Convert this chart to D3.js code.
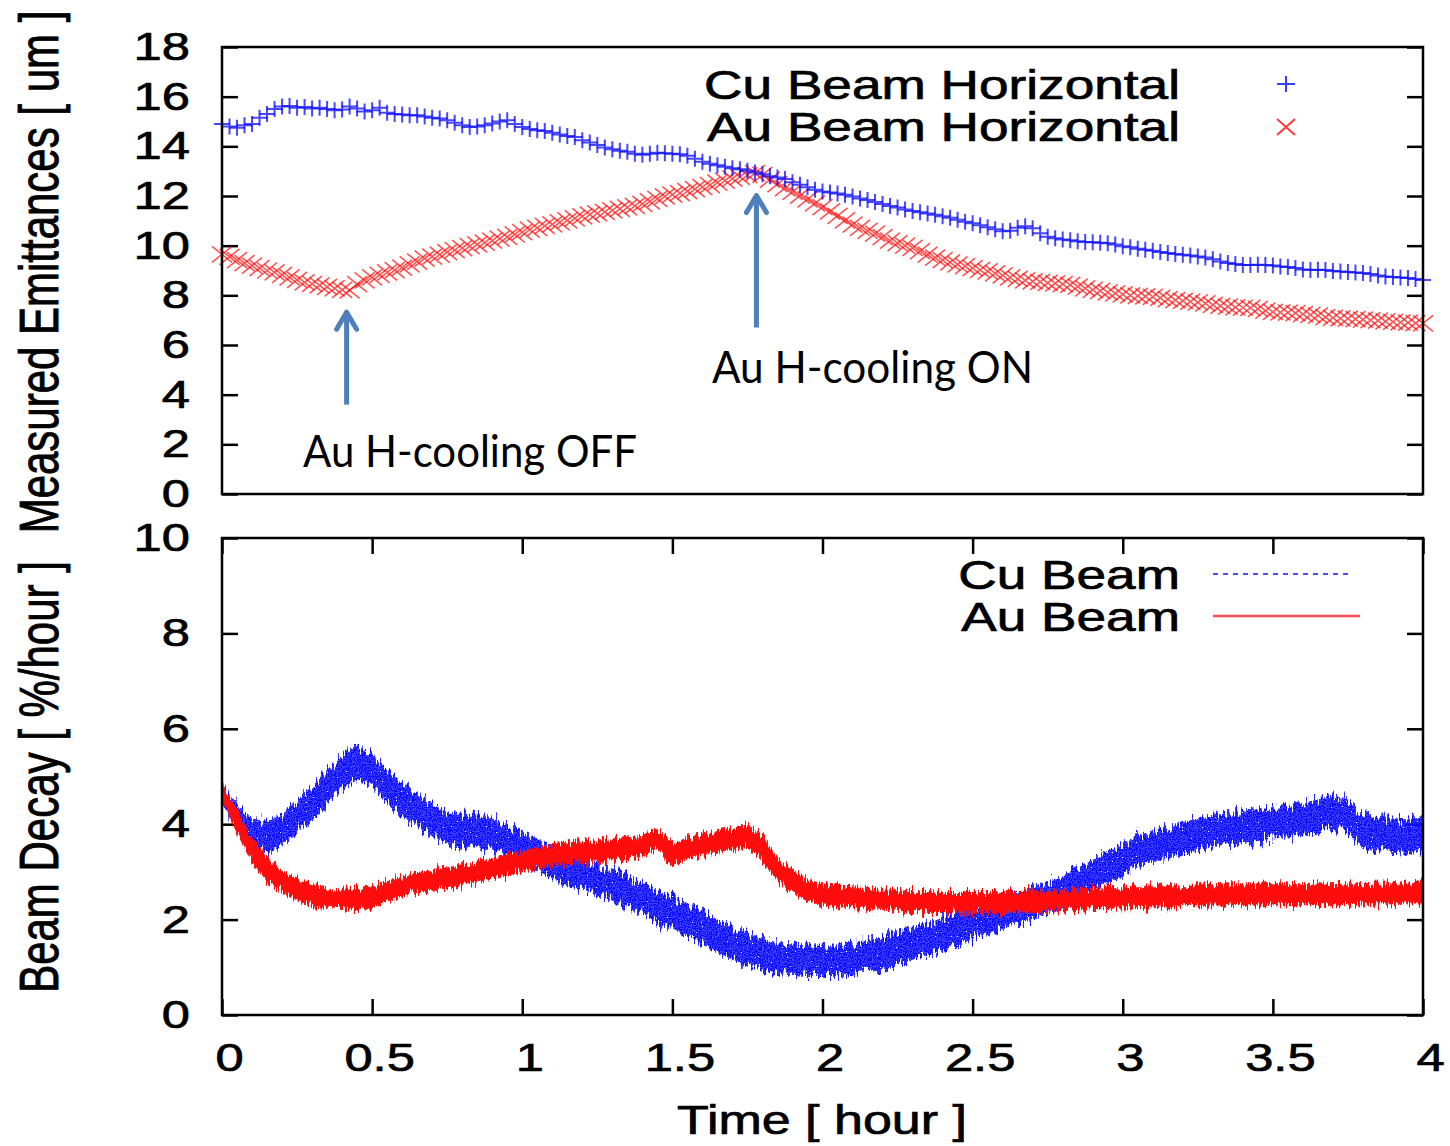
<!DOCTYPE html>
<html>
<head>
<meta charset="utf-8">
<script src="https://cdn.jsdelivr.net/npm/d3@7"></script>
<style>
  html, body { margin: 0; padding: 0; background: #fff; }
  svg { display: block; }
  .gp { font-family: "Liberation Sans", Arial, Helvetica, sans-serif; fill: #000; stroke: #000; stroke-width: 0.7px; }
  .note { font-family: Lato, "Open Sans", sans-serif; fill: #000; }
</style>
</head>
<body>
<svg id="chart" width="1450" height="1146">
  <defs>
    <filter id="texBlue" x="-5%" y="-30%" width="110%" height="160%">
      <feTurbulence type="fractalNoise" baseFrequency="0.5 0.05" numOctaves="2" seed="3" result="n1"/>
      <feColorMatrix in="n1" type="matrix" values="0 0 0 0 0.5  0 1 0 0 0  0 0 0 0 0  0 0 0 0 1" result="disp"/>
      <feDisplacementMap in="SourceGraphic" in2="disp" scale="24" xChannelSelector="R" yChannelSelector="G" result="jag"/>
      <feTurbulence type="fractalNoise" baseFrequency="0.8" numOctaves="1" seed="7" result="n2"/>
      <feComponentTransfer in="n2" result="mask"><feFuncA type="discrete" tableValues="0 0.8 1 1"/></feComponentTransfer>
      <feComposite in="jag" in2="mask" operator="in"/>
    </filter>
    <filter id="texRed" x="-5%" y="-30%" width="110%" height="160%">
      <feTurbulence type="fractalNoise" baseFrequency="0.6 0.04" numOctaves="2" seed="11" result="n1"/>
      <feColorMatrix in="n1" type="matrix" values="0 0 0 0 0.5  0 1 0 0 0  0 0 0 0 0  0 0 0 0 1" result="disp"/>
      <feDisplacementMap in="SourceGraphic" in2="disp" scale="18" xChannelSelector="R" yChannelSelector="G"/>
    </filter>
  </defs>
</svg>
<script>
// ---------- DATA ----------
// Top panel: measured horizontal emittances [um], sampled every 0.025 hour from 0 to 4 h
const emitStepHours = 0.025;
const cuEmitH = [
  14.9,14.8,14.75,14.85,14.9,15.15,15.3,15.5,15.6,15.62,
  15.55,15.58,15.52,15.55,15.5,15.45,15.48,15.6,15.52,15.4,
  15.45,15.55,15.35,15.3,15.28,15.25,15.25,15.2,15.15,15.12,
  15.05,14.95,14.85,14.78,14.8,14.85,14.92,15.0,15.05,14.9,
  14.78,14.7,14.65,14.62,14.55,14.48,14.42,14.38,14.25,14.15,
  14.05,13.95,13.88,13.82,13.78,13.7,13.66,13.7,13.74,13.72,
  13.7,13.68,13.62,13.5,13.38,13.3,13.24,13.18,13.12,13.08,
  13.02,12.95,12.88,12.8,12.75,12.68,12.55,12.45,12.35,12.25,
  12.18,12.14,12.1,12.05,11.98,11.9,11.84,11.76,11.68,11.6,
  11.54,11.46,11.4,11.35,11.3,11.24,11.18,11.12,11.04,10.96,
  10.9,10.82,10.74,10.66,10.58,10.6,10.72,10.78,10.7,10.5,
  10.36,10.3,10.25,10.22,10.18,10.15,10.14,10.12,10.1,10.05,
  9.98,9.94,9.88,9.84,9.8,9.74,9.7,9.66,9.63,9.6,
  9.56,9.52,9.45,9.36,9.3,9.26,9.22,9.22,9.23,9.22,
  9.2,9.16,9.14,9.1,9.04,9.02,9.03,9.02,8.98,8.96,
  8.94,8.92,8.9,8.86,8.8,8.76,8.74,8.72,8.7,8.66,
  8.62
];
const auEmitH = [
  9.65,9.55,9.42,9.3,9.2,9.1,9.0,8.92,8.82,8.72,
  8.62,8.52,8.46,8.4,8.34,8.28,8.22,8.2,8.45,8.6,
  8.72,8.82,8.92,9.02,9.12,9.25,9.36,9.48,9.56,9.64,
  9.74,9.82,9.9,9.98,10.05,10.12,10.2,10.28,10.35,10.45,
  10.55,10.65,10.72,10.8,10.86,10.94,11.02,11.1,11.18,11.25,
  11.3,11.36,11.42,11.48,11.54,11.6,11.68,11.78,11.88,11.98,
  12.06,12.12,12.2,12.28,12.36,12.44,12.54,12.62,12.7,12.77,
  12.84,12.92,12.85,12.66,12.48,12.32,12.17,12.02,11.86,11.7,
  11.55,11.38,11.2,11.02,10.85,10.72,10.6,10.48,10.34,10.2,
  10.1,10.0,9.91,9.78,9.64,9.52,9.42,9.33,9.25,9.18,
  9.1,9.03,8.96,8.88,8.8,8.72,8.66,8.6,8.56,8.54,
  8.5,8.48,8.45,8.42,8.35,8.28,8.22,8.18,8.12,8.08,
  8.04,8.0,7.98,7.96,7.94,7.9,7.85,7.81,7.78,7.75,
  7.72,7.68,7.62,7.58,7.55,7.52,7.5,7.49,7.45,7.38,
  7.33,7.31,7.3,7.28,7.24,7.21,7.18,7.12,7.09,7.07,
  7.06,7.04,7.02,7.0,6.98,6.95,6.93,6.91,6.9,6.88,
  6.87
];

// Bottom panel: beam decay [%/hour], noisy band read as lower / upper edge every 0.05 hour
const decayStepHours = 0.05;
const cuDecayLo = [
  4.4,3.92,3.5,3.4,3.55,3.82,4.1,4.45,4.75,4.95,
  4.8,4.45,4.15,3.98,3.75,3.6,3.55,3.5,3.45,3.32,
  3.18,3.05,2.88,2.72,2.62,2.5,2.4,2.25,2.12,1.95,
  1.82,1.66,1.52,1.32,1.16,1.04,0.95,0.86,0.84,0.82,
  0.82,0.82,0.86,0.92,0.96,1.06,1.16,1.26,1.38,1.48,
  1.6,1.72,1.82,1.92,2.02,2.12,2.25,2.4,2.58,2.75,
  2.9,3.08,3.2,3.28,3.36,3.45,3.52,3.55,3.6,3.65,
  3.7,3.72,3.78,3.84,3.9,3.82,3.5,3.45,3.42,3.4,
  3.48
];
const cuDecayHi = [
  4.8,4.45,4.12,4.05,4.2,4.48,4.78,5.12,5.42,5.6,
  5.45,5.15,4.85,4.65,4.42,4.25,4.2,4.2,4.12,3.98,
  3.82,3.7,3.52,3.38,3.28,3.15,3.05,2.9,2.78,2.6,
  2.48,2.32,2.18,2.0,1.84,1.7,1.6,1.52,1.5,1.48,
  1.48,1.48,1.52,1.58,1.62,1.72,1.82,1.92,2.04,2.14,
  2.25,2.38,2.48,2.58,2.68,2.78,2.9,3.08,3.25,3.42,
  3.58,3.75,3.88,3.95,4.04,4.12,4.2,4.22,4.28,4.32,
  4.38,4.4,4.45,4.52,4.6,4.52,4.2,4.15,4.12,4.1,
  4.15
];
const auDecayLo = [
  4.5,3.8,3.2,2.8,2.58,2.4,2.3,2.26,2.2,2.22,
  2.24,2.38,2.48,2.56,2.6,2.66,2.72,2.78,2.86,2.92,
  3.0,3.06,3.12,3.14,3.18,3.2,3.24,3.28,3.32,3.5,
  3.12,3.26,3.34,3.42,3.46,3.5,3.22,2.8,2.56,2.38,
  2.3,2.26,2.24,2.22,2.2,2.18,2.16,2.14,2.14,2.12,
  2.12,2.12,2.14,2.14,2.16,2.16,2.18,2.2,2.22,2.22,
  2.24,2.24,2.26,2.28,2.28,2.28,2.3,2.3,2.3,2.3,
  2.3,2.3,2.3,2.3,2.3,2.3,2.32,2.32,2.32,2.34,
  2.34
];
const auDecayHi = [
  4.85,4.3,3.72,3.3,3.02,2.86,2.74,2.68,2.62,2.66,
  2.7,2.82,2.9,3.0,3.04,3.1,3.16,3.22,3.3,3.36,
  3.44,3.52,3.58,3.62,3.64,3.66,3.68,3.74,3.78,3.92,
  3.6,3.72,3.8,3.88,3.92,4.0,3.76,3.3,3.04,2.84,
  2.76,2.7,2.68,2.66,2.64,2.62,2.6,2.6,2.58,2.58,
  2.58,2.58,2.58,2.6,2.6,2.62,2.62,2.64,2.66,2.68,
  2.68,2.7,2.7,2.72,2.72,2.74,2.74,2.76,2.76,2.76,
  2.74,2.74,2.74,2.76,2.74,2.76,2.76,2.78,2.78,2.78,
  2.8
];

const timeTicks = [0, 0.5, 1, 1.5, 2, 2.5, 3, 3.5, 4];
const emitTicks = [0, 2, 4, 6, 8, 10, 12, 14, 16, 18];
const decayTicks = [0, 2, 4, 6, 8, 10];
const emitLegend = ["Cu Beam Horizontal", "Au Beam Horizontal"];
const decayLegend = ["Cu Beam", "Au Beam"];
const notes = [
  { text: "Au H-cooling OFF", t: 0.415, from: 3.6, to: 7.4 },
  { text: "Au H-cooling ON", t: 1.78, from: 6.7, to: 12.1 }
];

// ---------- CHART ----------
const svg = d3.select("#chart");
const L = 222, R = 1423;
const x = d3.scaleLinear().domain([0, 4]).range([L, R]);
const yTop = d3.scaleLinear().domain([0, 18]).range([494, 47]);
const yBot = d3.scaleLinear().domain([0, 10]).range([1015, 538]);
const SX = 1.3; // horizontal stretch of the original figure's text

const cuColor = "#0a0aff", auColor = "#ff0c0c";

function styleAxis(g) {
  g.select(".domain").remove();
  g.selectAll(".tick line").attr("stroke", "#000").attr("stroke-width", 2.5);
}

// --- top panel axes ---
const gTopL = svg.append("g").attr("transform", `translate(${L},0)`)
  .call(d3.axisLeft(yTop).tickValues(emitTicks).tickSize(-16).tickPadding(32).tickFormat(d3.format("d")));
styleAxis(gTopL);
gTopL.selectAll("text").attr("class", "gp").attr("font-size", 39).attr("x", null)
  .attr("transform", `translate(-32,0) scale(${SX},1)`);

const gTopR = svg.append("g").attr("transform", `translate(${R},0)`)
  .call(d3.axisRight(yTop).tickValues(emitTicks).tickSize(-16).tickFormat(""));
styleAxis(gTopR);

// --- bottom panel axes ---
const gBotL = svg.append("g").attr("transform", `translate(${L},0)`)
  .call(d3.axisLeft(yBot).tickValues(decayTicks).tickSize(-16).tickPadding(32).tickFormat(d3.format("d")));
styleAxis(gBotL);
gBotL.selectAll("text").attr("class", "gp").attr("font-size", 39).attr("x", null)
  .attr("transform", `translate(-32,0) scale(${SX},1)`);

const gBotR = svg.append("g").attr("transform", `translate(${R},0)`)
  .call(d3.axisRight(yBot).tickValues(decayTicks).tickSize(-16).tickFormat(""));
styleAxis(gBotR);

const gBotB = svg.append("g").attr("transform", `translate(0,1015)`)
  .call(d3.axisBottom(x).tickValues(timeTicks).tickSize(-16).tickPadding(28).tickFormat(d3.format("~g")));
styleAxis(gBotB);
gBotB.selectAll("text").attr("class", "gp").attr("font-size", 39).attr("y", null)
  .attr("transform", `translate(7,28) scale(${SX},1)`);

const gBotT = svg.append("g").attr("transform", `translate(0,538)`)
  .call(d3.axisTop(x).tickValues(timeTicks).tickSize(-16).tickFormat(""));
styleAxis(gBotT);

// --- top panel data ---
svg.select("defs").append("clipPath").attr("id", "clipTop").append("rect")
  .attr("x", L - 12).attr("y", 47).attr("width", R - L + 24).attr("height", 447);

const plusPath = "M-8,0H8M0,-8V8";
const crossPath = "M-10,-8L10,8M-10,8L10,-8";

const gTopData = svg.append("g").attr("clip-path", "url(#clipTop)");
gTopData.append("g").selectAll("path").data(auEmitH).join("path")
  .attr("transform", (d, i) => `translate(${x(i * emitStepHours)},${yTop(d)})`)
  .attr("d", crossPath).attr("fill", "none")
  .attr("stroke", auColor).attr("stroke-opacity", 0.7).attr("stroke-width", 1.6);
gTopData.append("g").selectAll("path").data(cuEmitH).join("path")
  .attr("transform", (d, i) => `translate(${x(i * emitStepHours)},${yTop(d)})`)
  .attr("d", plusPath).attr("fill", "none")
  .attr("stroke", cuColor).attr("stroke-opacity", 0.75).attr("stroke-width", 2);

// --- bottom panel data (noisy bands) ---
const cuBand = cuDecayLo.map((lo, i) => ({ t: i * decayStepHours, lo, hi: cuDecayHi[i] }));
const auBand = auDecayLo.map((lo, i) => ({ t: i * decayStepHours, lo, hi: auDecayHi[i] }));
const band = d3.area().x(d => x(d.t)).y0(d => yBot(d.lo)).y1(d => yBot(d.hi));

svg.append("path").datum(cuBand).attr("d", band)
  .attr("fill", cuColor)
  .attr("filter", "url(#texBlue)");
svg.append("path").datum(auBand).attr("d", band)
  .attr("fill", auColor)
  .attr("filter", "url(#texRed)");

// --- frames ---
[[47, 494], [538, 1015]].forEach(([t, b]) => {
  svg.append("rect").attr("x", L).attr("y", t).attr("width", R - L).attr("height", b - t)
    .attr("fill", "none").attr("stroke", "#000").attr("stroke-width", 2.5);
});

// --- top legend ---
const topLegY = [99, 141];
emitLegend.forEach((s, i) => {
  svg.append("text").attr("class", "gp").attr("font-size", 40).attr("text-anchor", "end")
    .attr("transform", `translate(1180,${topLegY[i]}) scale(1.33,1)`).text(s);
});
svg.append("path").attr("transform", "translate(1286,84)").attr("d", "M-9,0H9M0,-8V8")
  .attr("stroke", "#3c3cff").attr("stroke-width", 2).attr("fill", "none");
svg.append("path").attr("transform", "translate(1286,127)").attr("d", "M-9,-8L9,8M-9,8L9,-8")
  .attr("stroke", "#ff3b3b").attr("stroke-width", 2).attr("fill", "none");

// --- bottom legend ---
const botLegY = [589, 631];
decayLegend.forEach((s, i) => {
  svg.append("text").attr("class", "gp").attr("font-size", 40).attr("text-anchor", "end")
    .attr("transform", `translate(1180,${botLegY[i]}) scale(1.33,1)`).text(s);
});
svg.append("line").attr("x1", 1213).attr("x2", 1353).attr("y1", 574).attr("y2", 574)
  .attr("stroke", "#4a4aff").attr("stroke-width", 2).attr("stroke-dasharray", "5,5");
svg.append("line").attr("x1", 1213).attr("x2", 1360).attr("y1", 616).attr("y2", 616)
  .attr("stroke", "#ff4a5a").attr("stroke-width", 2.5);

// --- axis titles ---
svg.append("text").attr("class", "gp").attr("font-size", 42).attr("text-anchor", "middle")
  .attr("transform", `translate(58,272) scale(${SX},1) rotate(-90)`).text("Measured Emittances [ um ]");
svg.append("text").attr("class", "gp").attr("font-size", 42).attr("text-anchor", "middle")
  .attr("transform", `translate(58,777) scale(${SX},1) rotate(-90)`).text("Beam Decay [ %/hour ]");
svg.append("text").attr("class", "gp").attr("font-size", 40).attr("text-anchor", "middle")
  .attr("transform", `translate(822,1134) scale(${SX},1)`).text("Time [ hour ]");

// --- annotations with arrows ---
const arrowColor = "#4f7fba";
notes.forEach(n => {
  const ax = x(n.t), yTip = yTop(n.to), yTail = yTop(n.from);
  svg.append("line").attr("x1", ax).attr("x2", ax).attr("y1", yTail).attr("y2", yTip + 3)
    .attr("stroke", arrowColor).attr("stroke-width", 5);
  svg.append("path").attr("d", `M${ax - 10},${yTip + 19}L${ax},${yTip + 2}L${ax + 10},${yTip + 19}`)
    .attr("fill", "none").attr("stroke", arrowColor).attr("stroke-width", 5)
    .attr("stroke-linecap", "round").attr("stroke-linejoin", "round");
});
svg.append("text").attr("class", "note").attr("x", 303).attr("y", 467).attr("font-size", 44)
  .attr("textLength", 334).attr("lengthAdjust", "spacingAndGlyphs").text(notes[0].text);
svg.append("text").attr("class", "note").attr("x", 712).attr("y", 383).attr("font-size", 44)
  .attr("textLength", 321).attr("lengthAdjust", "spacingAndGlyphs").text(notes[1].text);
</script>
</body>
</html>
